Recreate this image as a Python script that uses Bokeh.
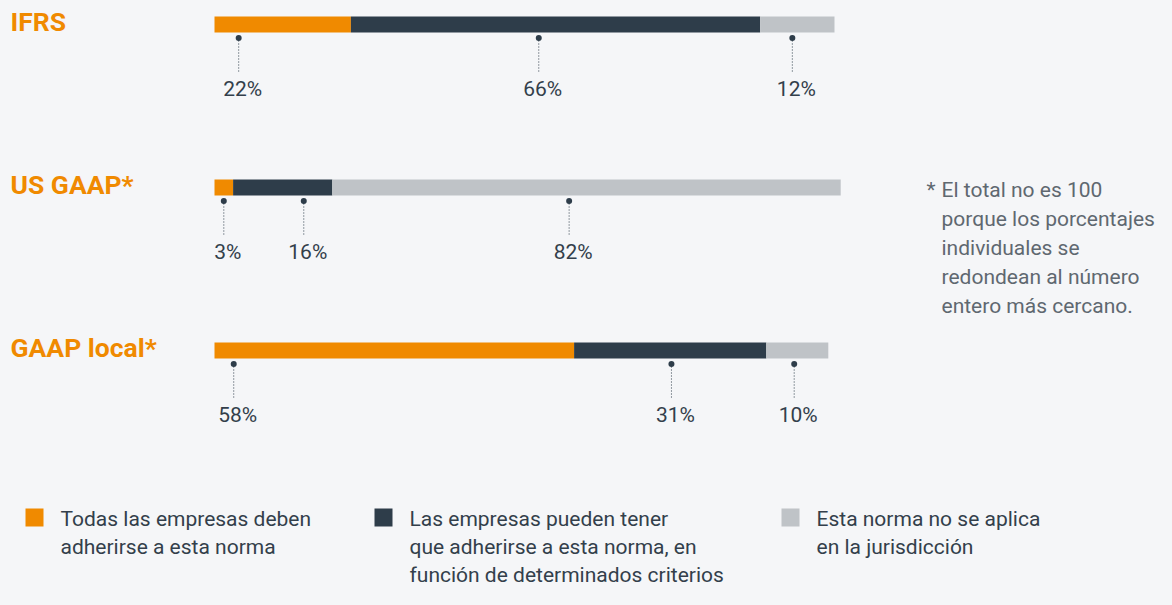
from bokeh.plotting import figure
from bokeh.models import Range1d, GlobalInlineStyleSheet
from bokeh.core.properties import value
from bokeh.embed import file_html
from bokeh.resources import INLINE

# ---------------- data ----------------
standards = ["IFRS", "US GAAP*", "GAAP local*"]
all_must = [22, 3, 58]      # Todas las empresas deben adherirse a esta norma
may_have = [66, 16, 31]     # Las empresas pueden tener que adherirse ...
not_apply = [12, 82, 10]    # Esta norma no se aplica en la jurisdicción

legend_labels = [
    ["Todas las empresas deben", "adherirse a esta norma"],
    ["Las empresas pueden tener", "que adherirse a esta norma, en", "función de determinados criterios"],
    ["Esta norma no se aplica", "en la jurisdicción"],
]
footnote_star = "*"
footnote_lines = ["El total no es 100", "porque los porcentajes", "individuales se",
                  "redondean al número", "entero más cercano."]

# ---------------- layout / style ----------------
W, H = 1156, 589
PX = 6.2                 # pixels per percent
X0 = -214 / PX           # 0% sits 214px from the left of the canvas
X1 = X0 + W / PX
BG = "#f5f6f8"
ORANGE = "#f08a00"
DARK = "#2e3d4a"
GRAY = "#bfc3c7"
TXT = "#333f4b"
NOTE = "#5f6870"
FONT = value("Roboto")
FS = 21          # body font size (px)
FT = 26.5        # title font size (px)
BL = 0.4         # baseline correction (fraction of font size)

# callout anchor positions (percent units) for each row's three labels
callout_x = [[3.9, 52.3, 93.2], [1.5, 14.4, 57.2], [3.1, 73.7, 93.5]]

def px(xpix):
    return X0 + xpix / PX

row_y = [24 + i * 163 for i in range(len(standards))]

p = figure(width=W, height=H, x_range=Range1d(X0, X1), y_range=Range1d(H, 0),
           output_backend="svg", toolbar_location=None, min_border=0,
           x_axis_location=None, y_axis_location=None,
           background_fill_color=BG, border_fill_color=BG, outline_line_color=None)
p.grid.visible = False
p.stylesheets = [GlobalInlineStyleSheet(css="html, body { background: %s; }" % BG)]

# stacked bars
series = [all_must, may_have, not_apply]
colors = [ORANGE, DARK, GRAY]
left = [0] * len(standards)
for vals, col in zip(series, colors):
    right = [l + v for l, v in zip(left, vals)]
    p.hbar(y=row_y, left=left, right=right, height=16, fill_color=col, line_color=None)
    left = right

# callouts
dx, dy, ly0, ly1, ty, tt = [], [], [], [], [], []
for i, yc in enumerate(row_y):
    for j, vals in enumerate(series):
        dx.append(callout_x[i][j])
        dy.append(yc + 13.5)
        ly0.append(yc + 16)
        ly1.append(yc + 48.5)
        ty.append(yc + 73 - BL * FS)
        tt.append(f"{vals[i]}%")
p.segment(x0=dx, y0=ly0, x1=dx, y1=ly1, line_color=DARK, line_width=1, line_dash="1 2")
p.scatter(x=dx, y=dy, size=6, fill_color=DARK, line_color=None)
p.text(x=dx, y=ty, text=tt, text_align="center", text_baseline="alphabetic", x_offset=4,
       text_font=FONT, text_font_size=f"{FS}px", text_color=TXT)

# row titles
p.text(x=[px(10)] * len(standards), y=[y + 8 - BL * FT for y in row_y], text=standards,
       text_align="left", text_baseline="alphabetic", text_font=FONT,
       text_font_size=f"{FT}px", text_font_style="bold", text_color=ORANGE)

# footnote
fy = 198 - BL * FS
p.text(x=[px(926)], y=[fy], text=[footnote_star], text_align="left", text_baseline="alphabetic",
       text_font=FONT, text_font_size=f"{FS}px", text_color=NOTE)
p.text(x=[px(941)] * len(footnote_lines), y=[fy + 29 * k for k in range(len(footnote_lines))],
       text=footnote_lines, text_align="left", text_baseline="alphabetic",
       text_font=FONT, text_font_size=f"{FS}px", text_color=NOTE)

# legend
leg_sq_x = [25, 374, 781]
leg_tx_x = [60, 409, 816]
base0 = 527
for k, (lines, col) in enumerate(zip(legend_labels, colors)):
    p.rect(x=[px(leg_sq_x[k] + 9)], y=[base0 - 10], width=18 / PX, height=18,
           fill_color=col, line_color=None)
    p.text(x=[px(leg_tx_x[k])] * len(lines),
           y=[base0 + 28 * m - BL * FS for m in range(len(lines))],
           text=lines, text_align="left", text_baseline="alphabetic",
           text_font=FONT, text_font_size=f"{FS}px", text_color=TXT)

open("out.html", "w").write(file_html(p, INLINE))
